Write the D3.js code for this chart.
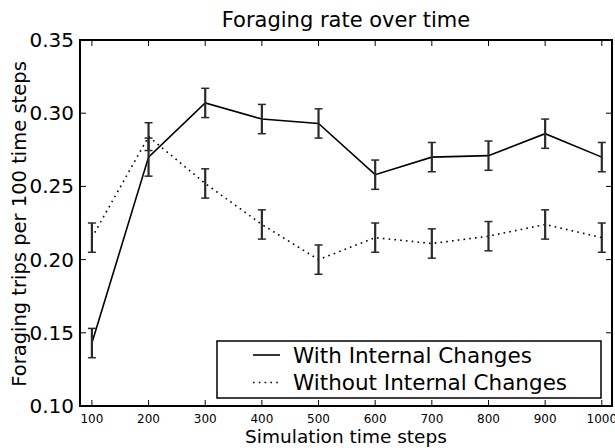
<!DOCTYPE html>
<html>
<head>
<meta charset="utf-8">
<script src="https://cdn.jsdelivr.net/npm/d3@7"></script>
<style>
  body { margin: 0; background: #fff; }
  text { font-family: "DejaVu Sans", sans-serif; fill: #000; }
</style>
</head>
<body>
<svg id="chart" width="615" height="448"></svg>
<script>
// data
var steps = [100, 200, 300, 400, 500, 600, 700, 800, 900, 1000];
var withChanges = [0.143, 0.270, 0.307, 0.296, 0.293, 0.258, 0.270, 0.271, 0.286, 0.270];
var withErr = [0.010, 0.013, 0.010, 0.010, 0.010, 0.010, 0.010, 0.010, 0.010, 0.010];
var withoutChanges = [0.215, 0.284, 0.252, 0.224, 0.200, 0.215, 0.211, 0.216, 0.224, 0.215];
var withoutErr = [0.010, 0.0095, 0.010, 0.010, 0.010, 0.010, 0.010, 0.010, 0.010, 0.010];
var yTicks = [0.10, 0.15, 0.20, 0.25, 0.30, 0.35];
var seriesNames = ["With Internal Changes", "Without Internal Changes"];

var svg = d3.select("#chart");
var m = {left: 80, right: 612, top: 40, bottom: 406};

var x = d3.scaleLinear().domain([79, 1018]).range([m.left, m.right]);
var y = d3.scaleLinear().domain([0.10, 0.35]).range([m.bottom, m.top]);

// title
svg.append("text").attr("x", 346).attr("y", 27).attr("text-anchor", "middle")
  .style("font-size", "21px").text("Foraging rate over time");

// ticks, inward on all sides
var tl = 6;
var gt = svg.append("g").attr("stroke", "#000").attr("stroke-width", 1);
steps.forEach(function(s) {
  gt.append("line").attr("x1", x(s)).attr("x2", x(s)).attr("y1", m.bottom).attr("y2", m.bottom - tl);
  gt.append("line").attr("x1", x(s)).attr("x2", x(s)).attr("y1", m.top).attr("y2", m.top + tl);
});
yTicks.forEach(function(v) {
  gt.append("line").attr("x1", m.left).attr("x2", m.left + tl).attr("y1", y(v)).attr("y2", y(v));
  gt.append("line").attr("x1", m.right).attr("x2", m.right - tl).attr("y1", y(v)).attr("y2", y(v));
});

svg.append("g").selectAll("text").data(steps).enter().append("text")
  .attr("x", d => x(d)).attr("y", m.bottom + 17).attr("text-anchor", "middle")
  .style("font-size", "12px").text(d => d);
svg.append("g").selectAll("text").data(yTicks).enter().append("text")
  .attr("x", m.left - 6).attr("y", d => y(d) + 7).attr("text-anchor", "end")
  .style("font-size", "20px").text(d => d3.format(".2f")(d));

svg.append("text").attr("x", 346).attr("y", 443).attr("text-anchor", "middle")
  .style("font-size", "18.5px").text("Simulation time steps");
svg.append("text").attr("transform", "translate(26,224) rotate(-90)").attr("text-anchor", "middle")
  .style("font-size", "19.5px").text("Foraging trips per 100 time steps");

function drawSeries(vals, errs, dash) {
  var pts = steps.map((s, i) => ({x: s, y: vals[i], e: errs[i]}));
  var line = d3.line().x(d => x(d.x)).y(d => y(d.y));
  svg.append("path").datum(pts).attr("d", line).attr("fill", "none")
    .attr("stroke", "#000").attr("stroke-width", 1.6)
    .attr("stroke-dasharray", dash ? "1.6,4.2" : null);
  var eb = svg.append("g").attr("stroke", "#2a2a2a").attr("stroke-width", 1.5);
  pts.forEach(function(d) {
    eb.append("line").attr("x1", x(d.x)).attr("x2", x(d.x)).attr("y1", y(d.y - d.e)).attr("y2", y(d.y + d.e)).attr("stroke-width", 2.2);
    eb.append("line").attr("x1", x(d.x) - 4).attr("x2", x(d.x) + 4).attr("y1", y(d.y - d.e)).attr("y2", y(d.y - d.e));
    eb.append("line").attr("x1", x(d.x) - 4).attr("x2", x(d.x) + 4).attr("y1", y(d.y + d.e)).attr("y2", y(d.y + d.e));
  });
}
drawSeries(withoutChanges, withoutErr, true);
drawSeries(withChanges, withErr, false);

// frame
svg.append("rect").attr("x", m.left).attr("y", m.top).attr("width", m.right - m.left)
  .attr("height", m.bottom - m.top).attr("fill", "none").attr("stroke", "#000").attr("stroke-width", 2);

// legend
var lg = svg.append("g");
lg.append("rect").attr("x", 217).attr("y", 341).attr("width", 384).attr("height", 57)
  .attr("fill", "#fff").attr("stroke", "#000").attr("stroke-width", 1.5);
seriesNames.forEach(function(n, i) {
  var cy = 355 + i * 27.5;
  lg.append("line").attr("x1", 253).attr("x2", 280).attr("y1", cy).attr("y2", cy)
    .attr("stroke", "#000").attr("stroke-width", 1.6)
    .attr("stroke-dasharray", i ? "1.6,4.2" : null);
  lg.append("text").attr("x", 293).attr("y", cy + 7.5).style("font-size", "21.5px").text(n);
});
</script>
</body>
</html>
